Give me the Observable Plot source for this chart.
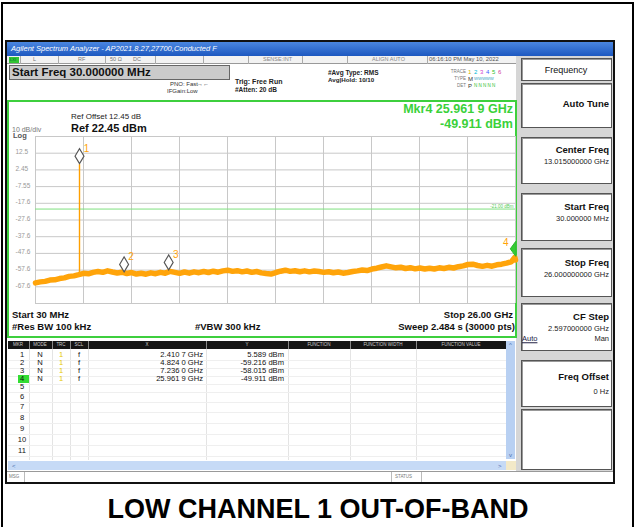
<!DOCTYPE html>
<html>
<head>
<meta charset="utf-8">
<script src="https://cdn.jsdelivr.net/npm/d3@7"></script>
<script src="https://cdn.jsdelivr.net/npm/@observablehq/plot@0.6"></script>
<style>
  html, body { margin: 0; padding: 0; background: #fff; }
  #root { position: relative; width: 637px; height: 527px; overflow: hidden; background: #fff;
          font-family: "Liberation Sans", Arial, sans-serif; }
  #root div { box-sizing: border-box; }
</style>
</head>
<body>
<div id="root"></div>
<script>
// ---------------- data ----------------
const gridFreqs = [0.03, 2.627, 5.224, 7.821, 10.418, 13.015, 15.612, 18.209, 20.806, 23.403, 26.0]; // GHz
const gridLevels = [22.45, 12.45, 2.45, -7.55, -17.55, -27.55, -37.55, -47.55, -57.55, -67.55, -77.55]; // dBm
const levelLabels = ["12.5", "2.45", "-7.55", "-17.6", "-27.6", "-37.6", "-47.6", "-57.6", "-67.6"];
const displayLine = -21.0;
const displayLineLabel = "-21.00 dBm";

const markerNum = [1, 2, 3, 4];
const markerMode = ["N", "N", "N", "N"];
const markerTrace = ["1", "1", "1", "1"];
const markerScale = ["f", "f", "f", "f"];
const markerFreq = [2.4107, 4.8240, 7.2360, 25.9619];   // GHz
const markerLevel = [5.589, -59.216, -58.015, -49.911]; // dBm
const rowLabels = ["1","2","3","4","5","6","7","8","9","10","11"];
const spikeBase = -60.4;

const traceFreq = [0.03,0.29,0.55,0.81,1.07,1.33,1.59,1.85,2.11,2.37,2.63,2.89,3.15,3.41,3.67,3.93,4.19,4.45,4.71,4.97,
  5.23,5.49,5.75,6.01,6.27,6.53,6.79,7.05,7.31,7.57,7.83,8.09,8.35,8.61,8.87,9.13,9.39,9.65,9.91,10.17,
  10.43,10.69,10.95,11.21,11.47,11.73,11.99,12.25,12.51,12.77,13.03,13.29,13.55,13.81,14.07,14.33,14.59,14.85,15.11,15.37,
  15.63,15.89,16.15,16.41,16.67,16.93,17.19,17.45,17.71,17.97,18.23,18.49,18.75,19.01,19.27,19.53,19.79,20.05,20.31,20.57,
  20.83,21.09,21.35,21.61,21.87,22.13,22.39,22.65,22.91,23.17,23.43,23.69,23.95,24.21,24.47,24.73,24.99,25.25,25.51,25.77,
  25.96,26.00];
const traceLevel = [-65.2,-64.6,-64.3,-63.5,-63.4,-62.6,-62.2,-61.3,-61.0,-60.3,-59.5,-59.8,-58.9,-58.4,-58.9,-58.0,-58.7,-59.3,-58.8,-59.6,
  -59.0,-59.9,-59.4,-60.0,-59.2,-59.7,-58.9,-59.4,-58.3,-58.9,-59.5,-58.7,-59.4,-58.6,-59.1,-58.4,-59.0,-58.2,-58.8,-58.0,
  -57.6,-58.3,-57.9,-58.6,-58.1,-58.9,-58.4,-59.2,-59.6,-59.9,-59.0,-58.2,-57.6,-58.3,-57.9,-58.5,-58.0,-58.6,-58.1,-58.4,
  -58.9,-58.5,-59.1,-58.7,-59.4,-59.0,-58.4,-58.0,-57.5,-57.8,-56.9,-56.4,-55.7,-55.0,-55.6,-56.2,-55.8,-56.6,-56.1,-56.8,
  -56.3,-56.9,-56.4,-56.9,-56.2,-56.6,-55.9,-56.3,-55.5,-55.0,-54.2,-54.0,-54.8,-55.3,-54.7,-55.2,-54.4,-54.0,-53.4,-52.6,
  -49.9,-51.5];

// ---------------- helpers ----------------
const root = document.getElementById("root");
function B(x, y, w, h, st = {}) {
  const d = document.createElement("div");
  Object.assign(d.style, { position: "absolute", left: x + "px", top: y + "px", width: w + "px", height: h + "px" }, st);
  root.appendChild(d); return d;
}
function T(x, y, s, o = {}) {
  const d = document.createElement("div");
  d.textContent = s;
  Object.assign(d.style, {
    position: "absolute", top: y + "px", fontSize: (o.size || 8) + "px", lineHeight: "1", whiteSpace: "nowrap",
    color: o.color || "#000", fontWeight: o.bold ? "bold" : "normal", letterSpacing: (o.ls || 0) + "px",
    fontStyle: o.italic ? "italic" : "normal", transform: "translateY(-50%)"
  });
  if (o.anchor === "end") d.style.right = (637 - x) + "px";
  else if (o.anchor === "middle") { d.style.left = x + "px"; d.style.transform = "translate(-50%,-50%)"; }
  else d.style.left = x + "px";
  if (o.underline) d.style.textDecoration = "underline";
  root.appendChild(d); return d;
}

// ---------------- instrument frame ----------------
// title bar
B(7, 42, 607, 14, { background: "linear-gradient(#4a86e0,#1d58c0)" });
T(11, 49, "Agilent Spectrum Analyzer - AP2021.8.27,27700,Conducted F", { size: 7.5, color: "#fff", italic: true });

// status row
B(7, 56, 509, 8, { background: "#f2f2f2", borderBottom: "1px solid #999" });
B(9, 57, 10, 6, { background: "#33c433" });
T(10, 60, "LXI", { size: 4, color: "#063" });
[20, 58, 105, 155, 203, 248, 302, 347, 427].forEach(x => B(x, 56, 1, 8, { background: "#aaa" }));
T(33, 60, "L", { size: 5.5, color: "#777" });
T(78, 60, "RF", { size: 5.5, color: "#777" });
T(110, 60, "50 Ω", { size: 5.5, color: "#777" });
T(133, 60, "DC", { size: 5.5, color: "#777" });
T(263, 60, "SENSE:INT", { size: 5.5, color: "#888" });
T(372, 60, "ALIGN AUTO", { size: 5.5, color: "#888" });
T(429, 60, "06:16:10 PM May 10, 2022", { size: 5.8, color: "#555" });

// start freq box
B(9, 65, 221, 15, { background: "#cbcbcb", border: "1px solid #666" });
T(12, 72.5, "Start Freq 30.000000 MHz", { size: 11.5, bold: true, color: "#111" });
T(170, 83.5, "PNO: Fast", { size: 6, color: "#333" });
T(197, 83.5, "→←", { size: 6, color: "#333" });
T(167, 91, "IFGain:Low", { size: 6, color: "#333" });
T(235, 81, "Trig: Free Run", { size: 7, bold: true, color: "#222" });
T(235, 90, "#Atten: 20 dB", { size: 6.5, bold: true, color: "#222" });
T(328, 72.5, "#Avg Type: RMS", { size: 6.5, bold: true, color: "#222" });
T(328, 80, "Avg|Hold: 10/10", { size: 6.2, bold: true, color: "#222" });
T(466, 72, "TRACE", { size: 4.5, color: "#777", anchor: "end" });
T(466, 79, "TYPE", { size: 4.5, color: "#777", anchor: "end" });
T(466, 86, "DET", { size: 4.5, color: "#777", anchor: "end" });
const trCols = ["#d4b800", "#00b8d8", "#d040d0", "#4060ff", "#30c030", "#d040a0"];
["1","2","3","4","5","6"].forEach((s, i) => T(468 + i * 6, 72, s, { size: 6, color: trCols[i] }));
T(468, 79, "M", { size: 6, color: "#333" });
T(474, 79, "WWWWW", { size: 4.2, color: "#30a0c0" });
T(468, 86, "P", { size: 6, color: "#333" });
T(474, 86, "N N N N N", { size: 4.5, color: "#30c030" });

// soft-key panel
B(516, 56, 98, 416, { background: "#d6d6d6" });
const keys = [[58, 81], [83, 128], [137, 184], [193, 241], [248, 297], [303, 351], [360, 407], [409, 470]];
keys.forEach(([a, b]) => B(521, a, 91, b - a, { background: "#fff", border: "1px solid #555", boxShadow: "inset 1px 1px 0 #999" }));
T(566, 69.5, "Frequency", { size: 9, anchor: "middle", color: "#111" });
T(609, 104, "Auto Tune", { size: 9.5, bold: true, anchor: "end", color: "#111" });
T(609, 150, "Center Freq", { size: 9.5, bold: true, anchor: "end", color: "#111" });
T(609, 162, "13.015000000 GHz", { size: 7.5, anchor: "end", color: "#222" });
T(609, 207, "Start Freq", { size: 9.5, bold: true, anchor: "end", color: "#111" });
T(609, 218.5, "30.000000 MHz", { size: 7.5, anchor: "end", color: "#222" });
T(609, 263, "Stop Freq", { size: 9.5, bold: true, anchor: "end", color: "#111" });
T(609, 275, "26.000000000 GHz", { size: 7.5, anchor: "end", color: "#222" });
T(609, 317, "CF Step", { size: 9.5, bold: true, anchor: "end", color: "#111" });
T(609, 328.5, "2.597000000 GHz", { size: 7.5, anchor: "end", color: "#222" });
T(522, 338.5, "Auto", { size: 7.5, color: "#224", underline: true });
T(609, 338.5, "Man", { size: 7.5, anchor: "end", color: "#222" });
T(609, 377, "Freq Offset", { size: 9.5, bold: true, anchor: "end", color: "#111" });
T(609, 392, "0 Hz", { size: 7.5, anchor: "end", color: "#222" });

// graph area (green box)
B(7, 100, 510, 238, { border: "2px solid #3dcf3d", background: "#fff" });
T(71, 117, "Ref Offset 12.45 dB", { size: 8, color: "#222" });
T(71, 128, "Ref 22.45 dBm", { size: 11, bold: true, color: "#111" });
T(12, 128.5, "10 dB/div", { size: 7, color: "#777" });
T(13, 136, "Log", { size: 7.5, bold: true, color: "#555" });
T(513, 108.5, "Mkr4 25.961 9 GHz", { size: 12.5, bold: true, color: "#3ad13a", anchor: "end" });
T(513, 123.5, "-49.911 dBm", { size: 12.5, bold: true, color: "#3ad13a", anchor: "end" });
T(12, 315, "Start 30 MHz", { size: 9.5, bold: true, color: "#111" });
T(513, 315, "Stop 26.00 GHz", { size: 9.5, bold: true, color: "#111", anchor: "end" });
T(12, 327, "#Res BW 100 kHz", { size: 9.5, bold: true, color: "#111" });
T(195, 327, "#VBW 300 kHz", { size: 9.5, bold: true, color: "#111" });
T(515, 327, "Sweep  2.484 s (30000 pts)", { size: 9.5, bold: true, color: "#111", anchor: "end" });

// plot (grid, trace, markers)
const tallDiamond = { draw(ctx) { ctx.moveTo(0, -1); ctx.lineTo(4.5, -8.5); ctx.lineTo(0, -16); ctx.lineTo(-4.5, -8.5); ctx.closePath(); } };
const halfDiamond = { draw(ctx) { ctx.moveTo(1, -1); ctx.lineTo(-4.5, -8.5); ctx.lineTo(1, -16); ctx.closePath(); } };
const trace = traceFreq.map((f, i) => ({ f, v: traceLevel[i] }));
const markers = markerNum.map((n, i) => ({ n, f: markerFreq[i], v: markerLevel[i] }));
const orange = "#ffa40a";

const chart = Plot.plot({
  width: 512, height: 176,
  marginLeft: 27, marginRight: 5, marginTop: 6, marginBottom: 3,
  x: { domain: [0.03, 26.0], axis: null },
  y: { domain: [-77.55, 22.45], axis: null },
  style: { background: "transparent", fontFamily: "Liberation Sans, Arial, sans-serif", overflow: "visible" },
  marks: [
    Plot.ruleY(gridLevels, { stroke: "#c8c8c8", strokeWidth: 1 }),
    Plot.ruleX(gridFreqs, { stroke: "#c8c8c8", strokeWidth: 1 }),
    Plot.text(levelLabels, { y: (d, i) => gridLevels[i + 1], text: d => d, frameAnchor: "left", textAnchor: "start", dx: -20, dy: -1, fill: "#999", fontSize: 6.5 }),
    Plot.ruleY([displayLine], { stroke: "#7ee07e", strokeWidth: 1 }),
    Plot.text([displayLine], { x: () => 26.0, y: d => d, text: () => displayLineLabel, textAnchor: "end", dx: -2, dy: -3, fill: "#55cc55", fontSize: 4.5 }),
    Plot.ruleX([markerFreq[0]], { y1: () => spikeBase, y2: () => markerLevel[0], stroke: "#ffa000", strokeWidth: 1.4 }),
    Plot.line(trace, { x: "f", y: "v", stroke: orange, strokeWidth: 5.5, strokeLinejoin: "round" }),
    Plot.dot(markers.slice(0, 3), { x: "f", y: "v", symbol: tallDiamond, fill: "#fff", stroke: "#555", strokeWidth: 1.1 }),
    Plot.dot(markers.slice(3), { x: "f", y: "v", symbol: halfDiamond, fill: "#33cc33", stroke: "#2bb82b", strokeWidth: 1 }),
    Plot.text(markers.slice(0, 3), { x: "f", y: "v", text: d => String(d.n), dx: 7, dy: -16, fill: orange, fontSize: 10 }),
    Plot.text(markers.slice(3), { x: "f", y: "v", text: d => String(d.n), dx: -9, dy: -15, fill: orange, fontSize: 10 })
  ]
});
Object.assign(chart.style, { position: "absolute", left: "8px", top: "130px" });
root.appendChild(chart);

// marker table
B(7, 339, 509, 122, { background: "#fff" });
B(8, 341, 498, 8, { background: "#151515" });
const colEdges = [29, 52, 70, 88, 206, 288, 350, 416];
colEdges.forEach(x => { B(x, 341, 1, 8, { background: "#888" }); B(x, 349, 1, 111, { background: "#e4e4e4" }); });
[["MKR", 18], ["MODE", 40], ["TRC", 61], ["SCL", 79], ["X", 147], ["Y", 247], ["FUNCTION", 319], ["FUNCTION WIDTH", 383], ["FUNCTION VALUE", 461]]
  .forEach(([s, x]) => T(x, 345, s, { size: 4.5, color: "#ccc", anchor: "middle" }));
const rowY = [355, 363, 371, 379, 387, 397, 407, 418, 429, 440, 451];
rowY.forEach(y => B(8, y + 4.5, 498, 1, { background: "#efefef" }));
B(18, 375, 11, 8, { background: "#33dd33" });
rowLabels.forEach((s, i) => T(22, rowY[i], s, { size: 7.6, anchor: "middle", color: "#111" }));
const fmtF = f => { const s = f.toFixed(4); return s.slice(0, -1) + " " + s.slice(-1) + " GHz"; };
markers.forEach((m, i) => {
  const y = rowY[i];
  T(40, y, markerMode[i], { size: 7.6, anchor: "middle", color: "#111" });
  T(61, y, markerTrace[i], { size: 7.6, anchor: "middle", color: "#e6c800" });
  T(79, y, markerScale[i], { size: 7.6, anchor: "middle", color: "#111" });
  T(203, y, fmtF(m.f), { size: 7.6, anchor: "end", color: "#111" });
  T(284, y, m.v.toFixed(3) + " dBm", { size: 7.6, anchor: "end", color: "#111" });
});
// scrollbars
B(506, 341, 9, 118, { background: "#b8d0f2" });
T(510.5, 345, "^", { size: 6, anchor: "middle", color: "#4a6fb0" });
T(510.5, 455, "v", { size: 6, anchor: "middle", color: "#4a6fb0" });
B(8, 461, 498, 9, { background: "#c6daf6" });
T(12, 465.5, "<", { size: 6, color: "#4a6fb0" });
T(498, 465.5, ">", { size: 6, color: "#4a6fb0" });
B(506, 461, 10, 9, { background: "#f3e9c8" });

// msg bar
B(7, 471, 607, 11, { background: "#fff", borderTop: "1px solid #999" });
[24, 391, 421].forEach(x => B(x, 472, 1, 10, { background: "#bbb" }));
T(9, 477, "MSG", { size: 4.5, color: "#777" });
T(395, 477, "STATUS", { size: 4.5, color: "#777" });

// frames
B(5, 40, 610, 444, { border: "2px solid #111" });
B(1, 2, 633, 540, { border: "2px solid #000", borderBottom: "none" });

// caption
T(318, 509, "LOW CHANNEL 1 OUT-OF-BAND", { size: 27, bold: true, anchor: "middle", color: "#000" });
</script>
</body>
</html>
